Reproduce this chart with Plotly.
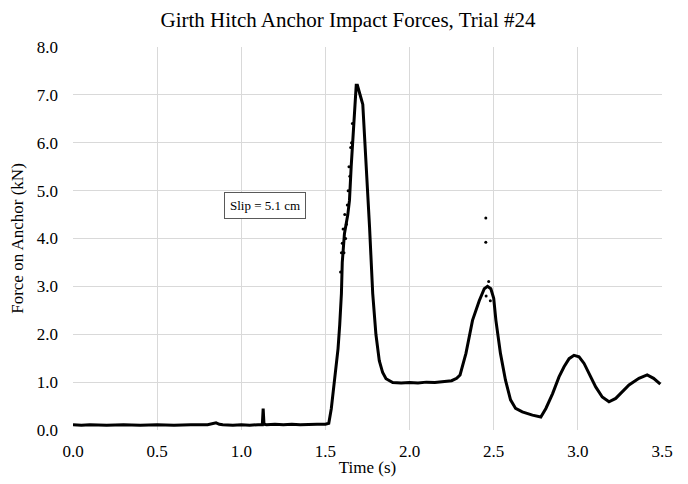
import plotly.graph_objects as go

# Main force trace (time s, force kN)
time_s = [0.00, 0.05, 0.10, 0.20, 0.30, 0.40, 0.50, 0.60, 0.70, 0.80, 0.85, 0.87, 0.89, 0.95,
          1.00, 1.05, 1.10, 1.125, 1.13, 1.135, 1.15, 1.20, 1.25, 1.30, 1.35, 1.40, 1.45,
          1.50, 1.52, 1.535, 1.545, 1.555, 1.565, 1.575, 1.585, 1.595, 1.60, 1.613, 1.633,
          1.643, 1.653, 1.663, 1.673, 1.683, 1.69, 1.70, 1.71, 1.722, 1.742, 1.762, 1.781,
          1.80, 1.82, 1.84, 1.86, 1.90, 1.95, 2.00, 2.05, 2.10, 2.15, 2.20, 2.25, 2.28,
          2.30, 2.335, 2.374, 2.414, 2.444, 2.463, 2.483, 2.50, 2.513, 2.54, 2.57, 2.60,
          2.63, 2.67, 2.73, 2.78, 2.81, 2.85, 2.888, 2.918, 2.948, 2.977, 3.007, 3.037,
          3.066, 3.106, 3.145, 3.185, 3.225, 3.264, 3.304, 3.363, 3.412, 3.45, 3.49]
force_kn = [0.11, 0.10, 0.11, 0.10, 0.11, 0.10, 0.11, 0.10, 0.11, 0.11, 0.15, 0.12, 0.11, 0.10,
            0.11, 0.10, 0.11, 0.11, 0.45, 0.12, 0.11, 0.12, 0.11, 0.12, 0.11, 0.12, 0.12,
            0.12, 0.14, 0.45, 0.75, 1.05, 1.35, 1.70, 2.20, 2.85, 3.50, 4.10, 4.50,
            4.80, 5.50, 6.00, 6.65, 7.20, 7.20, 7.05, 6.95, 6.80, 5.60, 4.25, 2.85,
            2.00, 1.45, 1.20, 1.07, 0.99, 0.98, 0.99, 0.98, 1.00, 0.99, 1.01, 1.03, 1.08,
            1.15, 1.60, 2.29, 2.70, 2.95, 3.00, 2.95, 2.75, 2.29, 1.60, 1.04, 0.63,
            0.45, 0.38, 0.31, 0.27, 0.45, 0.76, 1.11, 1.32, 1.49, 1.56, 1.53, 1.39,
            1.18, 0.90, 0.69, 0.59, 0.66, 0.80, 0.94, 1.08, 1.15, 1.08, 0.96]

# Scattered individual samples (rise region and outliers)
scatter_t = [1.590, 1.595, 1.600, 1.605, 1.610, 1.615, 1.620, 1.625, 1.630, 1.635, 1.640,
             1.645, 1.650, 1.655, 1.660, 2.453, 2.453, 2.470, 2.480, 2.455]
scatter_f = [3.30, 3.70, 3.90, 4.20, 3.70, 4.50, 4.00, 4.30, 4.70, 5.00, 5.50,
             5.30, 5.90, 6.00, 6.40, 4.43, 3.92, 3.10, 2.70, 2.80]

x_ticks = [0.0, 0.5, 1.0, 1.5, 2.0, 2.5, 3.0, 3.5]
y_ticks = [0.0, 1.0, 2.0, 3.0, 4.0, 5.0, 6.0, 7.0, 8.0]

fig = go.Figure()
fig.add_trace(go.Scatter(x=time_s, y=force_kn, mode="lines",
                         line=dict(color="black", width=3), showlegend=False))
fig.add_trace(go.Scatter(x=scatter_t, y=scatter_f, mode="markers",
                         marker=dict(color="black", size=3), showlegend=False))

serif = "Liberation Serif, Times New Roman, serif"
fig.update_layout(
    width=680, height=476,
    paper_bgcolor="white", plot_bgcolor="white",
    margin=dict(l=65, r=26, t=39, b=54),
    title=dict(text="Girth Hitch Anchor Impact Forces, Trial #24", x=0.5, xanchor="center",
               y=0.975, yanchor="middle", font=dict(family=serif, size=21, color="black")),
    font=dict(family=serif, size=17, color="black"),
    annotations=[dict(x=1.14, y=4.68, xref="x", yref="y", text="Slip = 5.1 cm",
                      showarrow=False, font=dict(family=serif, size=13, color="black"),
                      bordercolor="#595959", borderwidth=1, borderpad=5, bgcolor="white")],
)
fig.update_xaxes(range=[0, 3.5], tickvals=x_ticks, ticktext=[f"{v:.1f}" for v in x_ticks],
                 showgrid=True, gridcolor="#d9d9d9", gridwidth=1, zeroline=False,
                 showline=False, ticks="", automargin=False, ticklabelstandoff=9,
                 title=dict(text="Time (s)", standoff=1, font=dict(family=serif, size=17)),
                 tickfont=dict(family=serif, size=17))
fig.update_yaxes(range=[0, 8], tickvals=y_ticks, ticktext=[f"{v:.1f}" for v in y_ticks],
                 showgrid=True, gridcolor="#d9d9d9", gridwidth=1, zeroline=False,
                 showline=False, ticks="", automargin=False, ticklabelstandoff=14,
                 title=dict(text="Force on Anchor (kN)", standoff=8, font=dict(family=serif, size=17)),
                 tickfont=dict(family=serif, size=17))

fig.write_html("out.html")
